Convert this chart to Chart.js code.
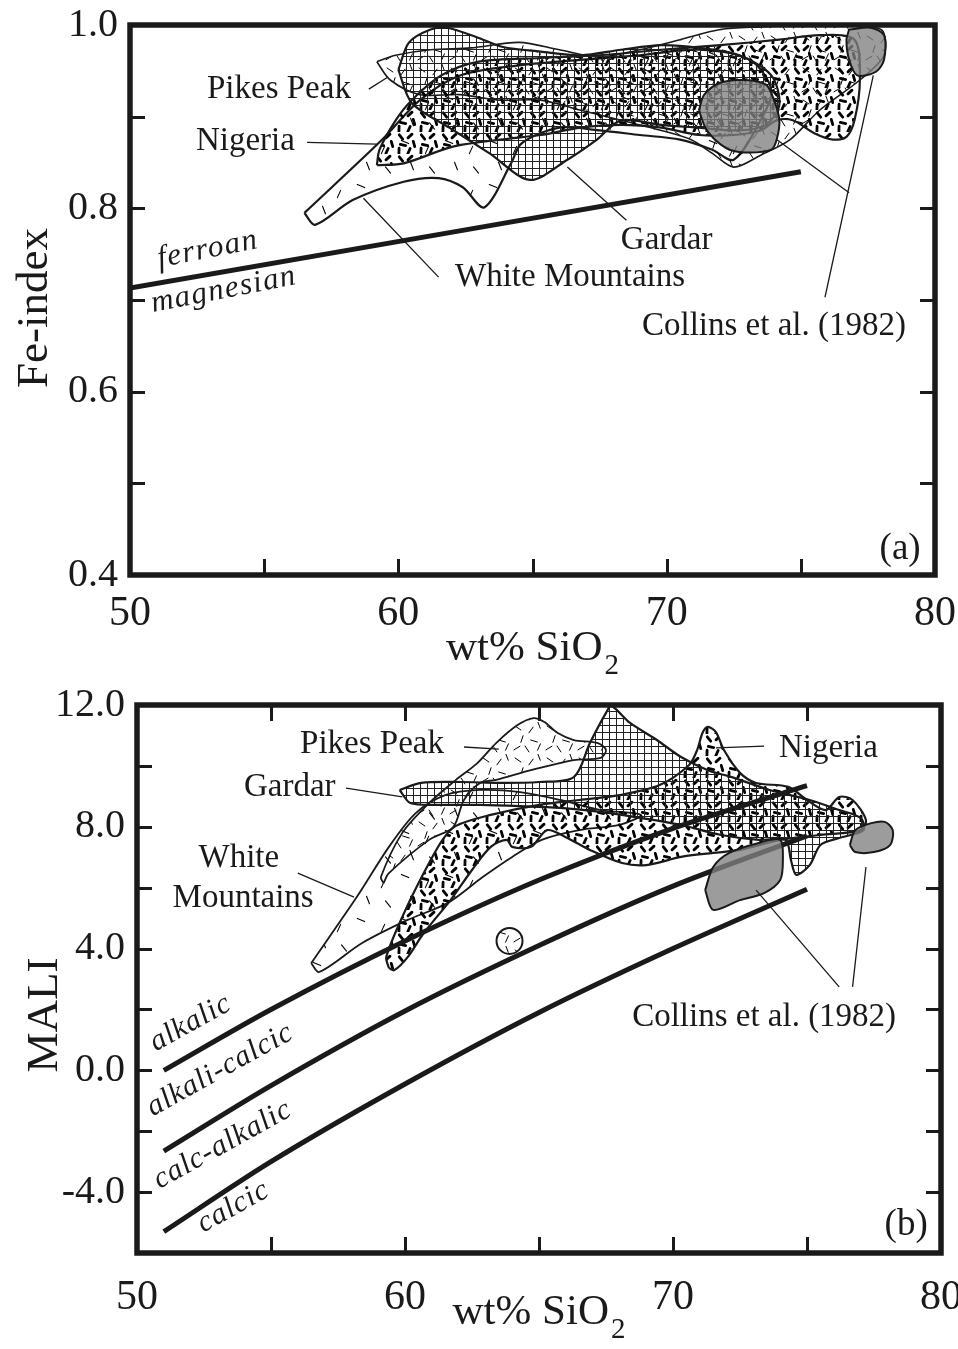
<!DOCTYPE html>
<html><head><meta charset="utf-8">
<script src="https://cdn.jsdelivr.net/npm/chart.js@4.4.1/dist/chart.umd.min.js"></script>
<style>
html,body{margin:0;padding:0;background:#fff;overflow:hidden;}
#wrap{position:relative;width:958px;height:1349px;}
#c1{position:absolute;left:0;top:0;}
#c2{position:absolute;left:0;top:690px;}
</style></head><body>
<div id="wrap"><canvas id="c1" width="958" height="690"></canvas><canvas id="c2" width="958" height="659"></canvas></div>
<script>
// ---------- tick labels ----------
const sio2TickLabels = [50, 60, 70, 80];
const feTickLabels = [0.4, 0.6, 0.8, 1.0];
const maliTickLabels = [-4, 0, 4, 8, 12];

// ---------- panel (a): Fe-index vs SiO2 ----------
const ferroanBoundary = [[50,0.713],[75,0.840]];
const pikesPeakA = [[59.2,0.960],[59.9,0.967],[61.2,0.973],[62.7,0.975],[64.5,0.981],[66.0,0.973],[67.5,0.965],[69.0,0.973],[70.5,0.984],[72.0,0.995],[73.5,0.998],[75.0,1.0],[76.5,1.0],[78.0,0.995],[78.1,0.967],[77.2,0.940],[75.7,0.907],[74.6,0.875],[73.5,0.858],[72.5,0.845],[71.7,0.860],[70.9,0.875],[69.8,0.885],[68.3,0.896],[66.8,0.907],[65.3,0.918],[63.8,0.918],[62.3,0.924],[60.8,0.924],[59.7,0.940],[59.2,0.960]];
const whiteMountainsA = [[56.5,0.795],[59.4,0.875],[60.8,0.918],[62.3,0.945],[64.5,0.956],[66.8,0.962],[69.0,0.967],[71.2,0.973],[73.1,0.962],[73.9,0.929],[73.5,0.896],[72.5,0.853],[71.7,0.864],[70.5,0.875],[69.0,0.880],[67.5,0.885],[66.0,0.888],[64.6,0.871],[64.2,0.849],[63.2,0.801],[62.4,0.823],[61.5,0.833],[60.2,0.829],[58.3,0.809],[56.9,0.782],[56.5,0.795]];
const nigeriaA = [[59.2,0.847],[59.3,0.864],[59.9,0.896],[60.5,0.918],[61.6,0.945],[63.0,0.960],[65.3,0.964],[67.5,0.967],[69.8,0.973],[72.0,0.978],[74.2,0.984],[75.7,0.989],[77.0,0.984],[77.2,0.940],[77.0,0.896],[76.7,0.878],[76.2,0.875],[75.5,0.882],[74.7,0.896],[74.1,0.896],[73.5,0.885],[72.5,0.880],[71.2,0.880],[69.8,0.888],[68.3,0.891],[66.8,0.888],[65.3,0.880],[63.8,0.875],[62.0,0.867],[60.2,0.849],[59.2,0.847]];
const gardarA = [[60.0,0.951],[60.4,0.981],[61.2,0.995],[61.8,0.997],[62.9,0.987],[63.9,0.976],[65.3,0.971],[66.8,0.967],[68.3,0.973],[69.8,0.978],[71.2,0.975],[72.7,0.967],[73.9,0.945],[74.2,0.913],[73.7,0.891],[72.7,0.885],[71.2,0.888],[69.8,0.891],[68.3,0.896],[67.4,0.875],[66.3,0.853],[64.9,0.831],[63.4,0.860],[61.9,0.888],[60.5,0.915],[60.0,0.951]];
const collinsA1 = [[71.2,0.907],[71.4,0.924],[72.0,0.937],[72.9,0.940],[73.7,0.935],[74.0,0.918],[74.2,0.896],[74.1,0.875],[73.9,0.864],[72.9,0.861],[72.2,0.866],[71.5,0.885],[71.2,0.907]];
const collinsA2 = [[76.8,0.995],[77.6,0.997],[78.1,0.989],[78.1,0.962],[77.8,0.949],[77.1,0.945],[76.8,0.962],[76.7,0.984],[76.8,0.995]];

// ---------- panel (b): MALI vs SiO2 ----------
const alkalicLine = [[51,0.0],[55,2.0],[60,4.25],[65,6.25],[70,7.95],[75,9.35]];
const alkaliCalcicLine = [[51,-2.65],[55,-0.5],[60,1.95],[65,4.1],[70,6.05],[75,7.7]];
const calcAlkalicLine = [[51,-5.3],[55,-3.0],[60,-0.45],[65,1.9],[70,4.0],[75,5.95]];
const whiteMountainsB = [[56.5,3.52],[58.2,5.69],[59.4,7.34],[60.4,8.45],[61.5,9.04],[62.8,9.21],[64.3,9.14],[65.8,8.88],[67.3,8.55],[68.8,8.39],[68.0,8.06],[66.5,7.89],[65.1,7.57],[64.0,7.01],[62.9,6.35],[61.6,5.50],[60.1,4.94],[58.4,4.18],[56.8,3.23],[56.5,3.52]];
const pikesPeakB = [[59.2,6.15],[59.1,6.35],[59.9,7.80],[60.9,8.78],[61.9,9.54],[62.7,10.09],[63.4,10.75],[64.2,11.34],[64.8,11.57],[65.2,11.44],[65.7,11.08],[66.3,10.85],[67.2,10.75],[67.5,10.52],[67.3,10.26],[66.3,10.19],[64.7,9.86],[63.4,9.54],[62.8,9.44],[62.2,8.88],[61.8,7.99],[60.9,7.57],[59.4,6.48],[59.2,6.15]];
const gardarB = [[59.8,9.21],[60.6,9.44],[62.1,9.47],[63.5,9.44],[65.0,9.47],[66.3,9.63],[66.9,10.75],[67.5,11.74],[67.7,11.97],[68.4,11.41],[69.4,10.85],[70.3,10.29],[71.3,9.86],[72.2,9.63],[73.6,9.21],[75.1,8.88],[76.2,8.55],[77.0,8.29],[77.1,7.89],[76.2,7.63],[75.5,7.40],[75.1,6.74],[74.6,6.42],[74.4,6.91],[74.2,7.57],[73.2,7.57],[71.8,7.73],[70.3,8.06],[68.8,8.29],[67.3,8.49],[65.8,8.62],[64.3,8.68],[62.8,8.72],[61.3,8.72],[60.2,8.78],[59.8,9.21]];
const nigeriaB = [[59.4,3.36],[59.3,3.72],[59.9,5.04],[60.7,6.48],[61.4,7.57],[61.9,8.03],[63.2,8.39],[65.0,8.72],[66.5,8.88],[68.0,9.04],[69.5,9.37],[70.6,10.03],[70.9,10.52],[71.1,11.08],[71.3,11.28],[71.6,11.11],[71.9,10.52],[72.5,9.77],[73.1,9.44],[74.3,9.31],[75.0,8.88],[75.7,8.55],[76.2,8.98],[76.7,8.88],[77.2,8.22],[77.0,7.89],[75.5,7.73],[74.0,7.57],[72.5,7.24],[71.5,7.14],[70.3,7.01],[69.0,6.74],[68.1,6.81],[66.9,7.24],[66.0,7.66],[65.3,7.89],[64.7,7.34],[64.0,7.34],[63.8,7.57],[63.2,7.34],[62.5,6.58],[61.7,5.59],[60.7,4.51],[60.1,3.72],[59.6,3.29],[59.4,3.36]];
const collinsB1 = [[71.2,5.92],[71.5,6.68],[72.1,7.14],[73.2,7.47],[74.0,7.57],[74.1,6.91],[74.0,6.25],[73.4,5.82],[72.5,5.59],[71.5,5.27],[71.2,5.92]];
const collinsB2 = [[76.6,7.40],[76.8,7.89],[77.4,8.12],[77.9,8.16],[78.2,7.89],[78.1,7.40],[77.5,7.17],[76.8,7.17],[76.6,7.40]];
const singleSample = [[63.9,4.25]];

// ---------- styling ----------
const SERIF = '"Liberation Serif","Times New Roman",serif';
const INK = '#1a1a1a';
const helper = document.createElement('canvas').getContext('2d');
function tile(w,h,bg,fn){const c=document.createElement('canvas');c.width=w;c.height=h;const g=c.getContext('2d');if(bg){g.fillStyle=bg;g.fillRect(0,0,w,h);}fn(g);return helper.createPattern(c,'repeat');}
function dashes(g,list,len,lw){g.strokeStyle='#000';g.lineWidth=lw;g.lineCap='round';list.forEach(([x,y,a])=>{const dx=Math.cos(a)*len/2,dy=Math.sin(a)*len/2;g.beginPath();g.moveTo(x-dx,y-dy);g.lineTo(x+dx,y+dy);g.stroke();});}
const gridPat = tile(7,7,null,g=>{g.strokeStyle='#222';g.lineWidth=1;g.beginPath();g.moveTo(0.5,0);g.lineTo(0.5,7);g.moveTo(0,0.5);g.lineTo(7,0.5);g.stroke();});
const lightDash = [[6,6,0.6],[19,8,2.2],[27,3,1.2],[10,17,1.9],[22,19,0.3],[5,26,2.6],[15,27,1.0],[27,25,2.0]];
const pikesPat = tile(32,32,null,g=>dashes(g,lightDash,7,1));
const pikesPatWhite = tile(32,32,'#fff',g=>dashes(g,lightDash,7,1));
const whitePat = tile(44,44,null,g=>dashes(g,[[9,10,0.4],[31,18,2.0],[16,34,1.2],[36,38,0.9]],8,1.1));
const nigeriaPat = tile(22,22,null,g=>dashes(g,[[5,5,0.9],[14,4,2.4],[18,12,1.3],[7,13,0.2],[13,19,2.0],[3,19,1.6]],5.5,2.8));
const GRAY = 'rgba(128,128,128,0.78)';

const toXY = a => a.map(([x,y])=>({x,y}));
function field(data,bg,bw){return {data:toXY(data),borderColor:INK,borderWidth:bw||2.2,backgroundColor:bg,fill:'shape',tension:0.3,pointRadius:0,pointHoverRadius:0};}
function bound(data){return {data:toXY(data),borderColor:INK,borderWidth:5,fill:false,tension:0.3,pointRadius:0,pointHoverRadius:0,borderCapStyle:'butt'};}

function decor(cfg){
  return {id:'decor',
  afterDatasetsDraw(chart){
    const ctx=chart.ctx,a=chart.chartArea,xs=chart.scales.x,ys=chart.scales.y;
    ctx.save();
    ctx.strokeStyle=INK;ctx.lineWidth=3;ctx.beginPath();
    xs.ticks.forEach(t=>{if(t.value<=xs.min||t.value>=xs.max)return;const p=Math.round(xs.getPixelForValue(t.value))+0.5;
      ctx.moveTo(p,a.bottom);ctx.lineTo(p,a.bottom-16);
      if(cfg.topTicks){ctx.moveTo(p,a.top);ctx.lineTo(p,a.top+16);}});
    ys.ticks.forEach(t=>{if(t.value<=ys.min+1e-9||t.value>=ys.max-1e-9)return;const p=Math.round(ys.getPixelForValue(t.value))+0.5;
      ctx.moveTo(a.left,p);ctx.lineTo(a.left+15,p);ctx.moveTo(a.right,p);ctx.lineTo(a.right-15,p);});
    ctx.stroke();
    ctx.lineWidth=5.5;ctx.strokeRect(a.left,a.top,a.width,a.height);
    // leader lines
    ctx.lineWidth=1.3;ctx.beginPath();
    cfg.leaders.forEach(([x1,y1,x2,y2])=>{ctx.moveTo(xs.getPixelForValue(x1),ys.getPixelForValue(y1));ctx.lineTo(xs.getPixelForValue(x2),ys.getPixelForValue(y2));});
    ctx.stroke();
    ctx.fillStyle=INK;ctx.textAlign='center';ctx.textBaseline='middle';
    cfg.labels.forEach(t=>{
      ctx.save();ctx.translate(xs.getPixelForValue(t.x),ys.getPixelForValue(t.y));ctx.rotate((t.angle||0)*Math.PI/180);
      ctx.font=(t.italic?'italic ':'')+t.size+'px '+SERIF;
      ctx.letterSpacing=(t.spacing||0)+'px';
      ctx.fillText(t.text,0,0);ctx.restore();});
    // axis titles
    ctx.save();ctx.translate(a.left+cfg.yTitle.dx,a.top+cfg.yTitle.dy);ctx.rotate(-Math.PI/2);
    ctx.font='45px '+SERIF;ctx.fillText(cfg.yTitle.text,0,0);ctx.restore();
    ctx.font='43px '+SERIF;const main='wt% SiO';const w1=ctx.measureText(main).width;
    ctx.font='29px '+SERIF;const w2=ctx.measureText('2').width;
    const cx=(a.left+a.right)/2+cfg.xTitle.dx, by=a.bottom+cfg.xTitle.dy, x0=cx-(w1+w2+2)/2;
    ctx.textAlign='left';ctx.textBaseline='alphabetic';
    ctx.font='43px '+SERIF;ctx.fillText(main,x0,by);
    ctx.font='29px '+SERIF;ctx.fillText('2',x0+w1+2,by+14);
    ctx.restore();
  }};
}

function scales(ymin,ymax,ystep,ylabels,yWidth,xHeight,xPad){
  return {
    x:{type:'linear',min:50,max:80,
      afterFit:s=>{s.height=xHeight;s.paddingLeft=0;s.paddingRight=0;},
      grid:{display:false,drawTicks:false},border:{display:false},
      ticks:{stepSize:5,autoSkip:false,maxRotation:0,minRotation:0,padding:xPad,color:INK,font:{family:SERIF,size:42},
        callback:v=>sio2TickLabels.some(t=>Math.abs(t-v)<1e-6)?String(v):''}},
    y:{type:'linear',min:ymin,max:ymax,
      afterFit:s=>{s.width=yWidth;s.paddingTop=0;s.paddingBottom=0;},
      grid:{display:false,drawTicks:false},border:{display:false},
      ticks:{stepSize:ystep,autoSkip:false,padding:12,color:INK,font:{family:SERIF,size:40},
        callback:v=>ylabels.some(t=>Math.abs(t-v)<1e-6)?Number(v).toFixed(1):''}}
  };
}
const baseOpts = {responsive:false,animation:false,events:[],plugins:{legend:{display:false},tooltip:{enabled:false}}};

new Chart(document.getElementById('c1'),{
  type:'line',
  data:{datasets:[
    field(collinsA2,GRAY,2),
    field(collinsA1,GRAY,2),
    bound(ferroanBoundary),
    field(gardarA,gridPat),
    field(nigeriaA,nigeriaPat),
    field(pikesPeakA,pikesPat,1.6),
    field(whiteMountainsA,whitePat),
  ]},
  options:Object.assign({},baseOpts,{
    layout:{padding:{left:0,right:23,top:25,bottom:0}},
    scales:scales(0.4,1.0,0.1,feTickLabels,130,115,14)
  }),
  plugins:[decor({
    topTicks:false,
    yTitle:{text:'Fe-index',dx:-95,dy:283},
    xTitle:{dx:0,dy:85},
    leaders:[[58.9,0.930,59.6,0.943],[56.6,0.872,59.2,0.870],[68.5,0.787,66.3,0.845],[61.5,0.725,58.7,0.811],[75.9,0.703,77.7,0.945],[76.8,0.817,74.1,0.875]],
    labels:[
      {text:'Pikes Peak',x:55.55,y:0.930,size:33},
      {text:'Nigeria',x:54.3,y:0.873,size:33},
      {text:'Gardar',x:70.0,y:0.765,size:33},
      {text:'White Mountains',x:66.4,y:0.725,size:33},
      {text:'Collins et al. (1982)',x:74.0,y:0.671,size:33},
      {text:'ferroan',x:52.9,y:0.755,size:31,italic:true,angle:-11,spacing:1.5},
      {text:'magnesian',x:53.5,y:0.711,size:31,italic:true,angle:-11,spacing:1.5},
      {text:'(a)',x:78.7,y:0.428,size:37}
    ]})]
});

new Chart(document.getElementById('c2'),{
  type:'line',
  data:{datasets:[
    field(collinsB2,GRAY,2),
    field(collinsB1,GRAY,2),
    {data:toXY(singleSample),showLine:false,pointRadius:13,pointHoverRadius:13,pointBackgroundColor:pikesPatWhite,pointBorderColor:INK,pointBorderWidth:2},
    bound(alkalicLine),
    bound(alkaliCalcicLine),
    bound(calcAlkalicLine),
    field(gardarB,gridPat),
    field(pikesPeakB,pikesPat,1.8),
    field(nigeriaB,nigeriaPat),
    field(whiteMountainsB,whitePat,1.8),
  ]},
  options:Object.assign({},baseOpts,{
    layout:{padding:{left:0,right:17,top:15,bottom:0}},
    scales:scales(-6,12,2,maliTickLabels,137,96,20)
  }),
  plugins:[decor({
    topTicks:true,
    yTitle:{text:'MALI',dx:-92,dy:310},
    xTitle:{dx:0,dy:71},
    leaders:[[62.2,10.62,63.5,10.55],[57.8,9.27,59.9,8.98],[56.0,6.48,58.1,5.69],[73.4,10.65,71.6,10.59],[76.2,2.74,73.1,5.92],[76.7,2.74,77.2,6.68]],
    labels:[
      {text:'Pikes Peak',x:58.77,y:10.72,size:33},
      {text:'Gardar',x:55.7,y:9.31,size:33},
      {text:'White',x:53.8,y:6.97,size:33},
      {text:'Mountains',x:53.96,y:5.66,size:33},
      {text:'Nigeria',x:75.8,y:10.59,size:33},
      {text:'Collins et al. (1982)',x:73.4,y:1.75,size:33},
      {text:'alkalic',x:52.0,y:1.55,size:30,italic:true,angle:-29,spacing:1},
      {text:'alkali-calcic',x:53.1,y:0.01,size:30,italic:true,angle:-29,spacing:1},
      {text:'calc-alkalic',x:53.2,y:-2.45,size:30,italic:true,angle:-29,spacing:1},
      {text:'calcic',x:53.6,y:-4.49,size:30,italic:true,angle:-29,spacing:1},
      {text:'(b)',x:78.7,y:-5.08,size:37}
    ]})]
});
</script>
</body></html>
